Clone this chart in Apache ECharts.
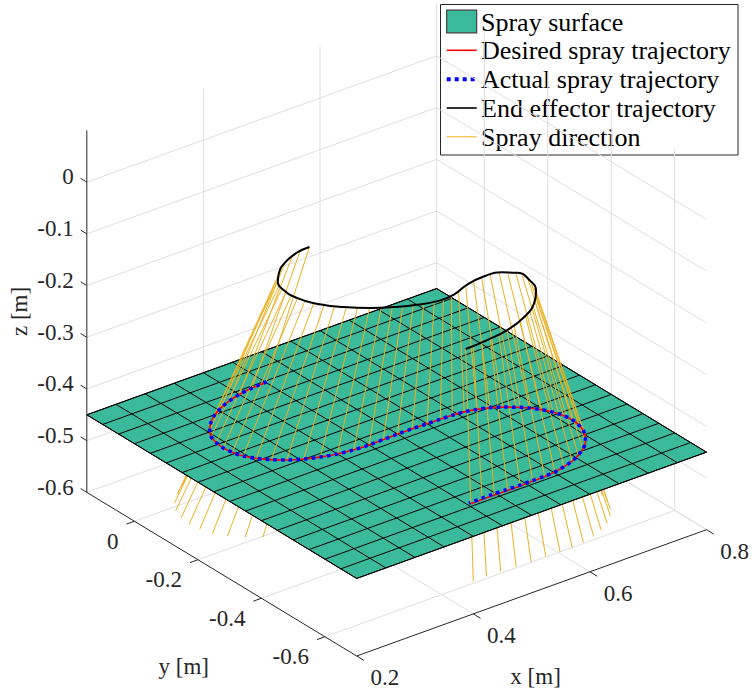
<!DOCTYPE html>
<html><head><meta charset="utf-8">
<script src="https://cdn.jsdelivr.net/npm/echarts@6/dist/echarts.min.js"></script>
<style>
html,body{margin:0;padding:0;background:#fff}
#c{width:752px;height:691px}
</style>
</head><body><div id="c"></div>
<script>
// ---------- data (metres) ----------
const xLim = [0.2, 0.8];
const yLim = [-0.7, 0.15];
const zLim = [-0.6, 0.1];
const xTicks = [0.2, 0.4, 0.6, 0.8];
const yTicks = [-0.6, -0.4, -0.2, 0];
const zTicks = [-0.6, -0.5, -0.4, -0.3, -0.2, -0.1, 0];
const surfX = [0.2,0.25,0.3,0.35,0.4,0.45,0.5,0.55,0.6,0.65,0.7,0.75,0.8];
const surfY = [-0.7,-0.65,-0.6,-0.55,-0.5,-0.45,-0.4,-0.35,-0.3,-0.25,-0.2,-0.15,-0.1,-0.05,0,0.05,0.1,0.15];
const surfZ = -0.45;
const desiredX = [0.450,0.425,0.400,0.376,0.355,0.335,0.319,0.305,0.295,0.290,0.288,0.290,0.295,0.305,0.319,0.335,0.355,0.376,0.400,0.425,0.450,0.475,0.500,0.525,0.550,0.572,0.592,0.611,0.629,0.646,0.661,0.675,0.688,0.698,0.706,0.711,0.713,0.711,0.706,0.698,0.687,0.673,0.657,0.640,0.621,0.602,0.583,0.562,0.540,0.518,0.496,0.475,0.455];
const desiredY = [0.045,0.043,0.037,0.027,0.014,-0.003,-0.022,-0.044,-0.067,-0.092,-0.118,-0.143,-0.168,-0.191,-0.213,-0.232,-0.249,-0.262,-0.272,-0.278,-0.280,-0.279,-0.278,-0.278,-0.279,-0.280,-0.281,-0.284,-0.291,-0.301,-0.314,-0.330,-0.348,-0.368,-0.390,-0.413,-0.437,-0.461,-0.484,-0.506,-0.526,-0.544,-0.559,-0.571,-0.580,-0.586,-0.589,-0.590,-0.591,-0.591,-0.590,-0.590,-0.591];
const actualX = [0.452,0.426,0.400,0.376,0.355,0.335,0.319,0.305,0.295,0.290,0.288,0.290,0.295,0.305,0.319,0.335,0.355,0.376,0.400,0.425,0.450,0.475,0.500,0.525,0.550,0.572,0.592,0.611,0.629,0.646,0.661,0.675,0.688,0.698,0.706,0.711,0.713,0.711,0.706,0.698,0.687,0.673,0.657,0.640,0.621,0.602,0.583,0.562,0.540,0.518,0.496,0.475,0.454];
const actualY = [0.046,0.043,0.037,0.027,0.014,-0.003,-0.022,-0.044,-0.067,-0.092,-0.118,-0.143,-0.168,-0.191,-0.213,-0.232,-0.249,-0.262,-0.272,-0.278,-0.280,-0.279,-0.278,-0.278,-0.279,-0.280,-0.281,-0.284,-0.291,-0.301,-0.314,-0.330,-0.348,-0.368,-0.390,-0.413,-0.437,-0.461,-0.484,-0.506,-0.526,-0.544,-0.559,-0.571,-0.580,-0.586,-0.588,-0.588,-0.588,-0.587,-0.586,-0.586,-0.587];
const effectorX = [0.462,0.438,0.407,0.383,0.367,0.358,0.358,0.369,0.392,0.419,0.446,0.475,0.508,0.533,0.565,0.598,0.623,0.640,0.640,0.627,0.604,0.568,0.528,0.489,0.449];
const effectorY = [-0.070,-0.074,-0.093,-0.119,-0.145,-0.178,-0.221,-0.263,-0.306,-0.340,-0.365,-0.385,-0.398,-0.395,-0.378,-0.371,-0.378,-0.399,-0.435,-0.481,-0.517,-0.551,-0.573,-0.582,-0.586];
const effectorZ = -0.15;
const legendNames = ['Spray surface','Desired spray trajectory','Actual spray trajectory','End effector trajectory','Spray direction'];

// ---------- view (orthographic projection, MATLAB-like 3-D box) ----------
const VIEW = { o:[356.7,656], ex:[583,-210.5], ey:[-317.5,-192.5], ez:[0,-517] };
function proj(x, y, z) {
  const a = x - xLim[0], b = y - yLim[0], c = z - zLim[0];
  return [VIEW.o[0] + a*VIEW.ex[0] + b*VIEW.ey[0] + c*VIEW.ez[0],
          VIEW.o[1] + a*VIEW.ex[1] + b*VIEW.ey[1] + c*VIEW.ez[1]];
}
const SURF = '#3ab99b', GRIDC = '#dedede', AXC = '#262626', SPRAY = '#EDB120';
const FONT = 'serif';

// spray lines: each desired point linked to the end-effector path at the same path fraction
function cum(pts){ const s=[0]; for(let i=1;i<pts.length;i++){ s.push(s[i-1]+Math.hypot(pts[i][0]-pts[i-1][0], pts[i][1]-pts[i-1][1])); } return s; }
const dPts = desiredX.map((x,i)=>proj(x, desiredY[i], surfZ));
const ePts = effectorX.map((x,i)=>proj(x, effectorY[i], effectorZ));
const sD = cum(dPts), sE = cum(ePts);
const sprays = desiredX.map((x,i)=>{
  const t = sD[i]/sD[sD.length-1]*sE[sE.length-1];
  let j = 0; while (j < sE.length-2 && sE[j+1] < t) j++;
  const f = Math.min(1, Math.max(0, (t - sE[j])/((sE[j+1]-sE[j])||1)));
  const ex = effectorX[j] + f*(effectorX[j+1]-effectorX[j]);
  const ey = effectorY[j] + f*(effectorY[j+1]-effectorY[j]);
  const y = desiredY[i];
  const k = (surfZ - zLim[0])/(effectorZ - surfZ);
  return { top:[ex, ey, effectorZ], mid:[x, y, surfZ], bot:[x + k*(x-ex), y + k*(y-ey), zLim[0]] };
});

function P(api, p){ return api.coord(proj(p[0], p[1], p[2])); }
function seg(api, p, q, style){ const a=P(api,p), b=P(api,q); return {type:'line', shape:{x1:a[0],y1:a[1],x2:b[0],y2:b[1]}, style}; }
function custom(name, z, build){
  return { type:'custom', name, coordinateSystem:'cartesian2d', silent:true, z, data:[[0,0]], animation:false,
           renderItem:(params, api)=>({type:'group', children: build(api)}) };
}
function fmt(v){ const r = Math.round(v*10)/10; return r === 0 ? '0' : String(r); }
function tstyle(s, align, size, fill){ return {text:s, fill:fill||AXC, fontFamily:FONT, fontSize:size||23, align, verticalAlign:'middle'}; }

const [x0,x1] = xLim, [y0,y1] = yLim, [z0,z1] = zLim;

const gridSeries = custom('grid', 1, api=>{
  const st = {stroke:GRIDC, lineWidth:1}, c=[];
  xTicks.forEach(x=>{ if (x>x0) c.push(seg(api,[x,y1,z0],[x,y1,z1],st)); });
  zTicks.forEach(z=>c.push(seg(api,[x0,y1,z],[x1,y1,z],st)));
  yTicks.forEach(y=>c.push(seg(api,[x1,y,z0],[x1,y,z1],st)));
  zTicks.forEach(z=>c.push(seg(api,[x1,y1,z],[x1,y0,z],st)));
  xTicks.forEach(x=>{ if (x>x0) c.push(seg(api,[x,y0,z0],[x,y1,z0],st)); });
  yTicks.forEach(y=>c.push(seg(api,[x0,y,z0],[x1,y,z0],st)));
  return c;
});
const sprayLow = custom('spray-low', 2, api=>sprays.map(s=>seg(api, s.mid, s.bot, {stroke:SPRAY, lineWidth:1})));
const surface = custom(legendNames[0], 3, api=>{
  const sx0=surfX[0], sx1=surfX[surfX.length-1], sy0=surfY[0], sy1=surfY[surfY.length-1];
  const corners = [[sx0,sy0],[sx1,sy0],[sx1,sy1],[sx0,sy1]].map(p=>P(api,[p[0],p[1],surfZ]));
  const c = [{type:'polygon', shape:{points:corners}, style:{fill:SURF, stroke:'#000', lineWidth:1}}];
  const st = {stroke:'#000', lineWidth:1};
  surfX.forEach(x=>c.push(seg(api,[x,sy0,surfZ],[x,sy1,surfZ],st)));
  surfY.forEach(y=>c.push(seg(api,[sx0,y,surfZ],[sx1,y,surfZ],st)));
  return c;
});
const sprayHigh = custom(legendNames[4], 4, api=>sprays.map(s=>seg(api, s.top, s.mid, {stroke:SPRAY, lineWidth:1})));

const axes = custom('axes', 8, api=>{
  const c=[], st={stroke:AXC, lineWidth:1};
  c.push(seg(api,[x0,y1,z0],[x0,y1,z1],st));
  c.push(seg(api,[x0,y0,z0],[x0,y1,z0],st));
  c.push(seg(api,[x0,y0,z0],[x1,y0,z0],st));
  const unit=(p,q)=>{ const a=P(api,p), b=P(api,q); const d=Math.hypot(b[0]-a[0],b[1]-a[1]); return [(b[0]-a[0])/d,(b[1]-a[1])/d]; };
  const uy = unit([x0,y0,z0],[x0,y1,z0]);   // +y on screen
  const ux = unit([x0,y0,z0],[x1,y0,z0]);   // +x on screen
  const L = 8.5;
  const txt=(x,y,s,align)=>({type:'text', x, y, style:tstyle(s, align)});
  zTicks.forEach(z=>{ const a=P(api,[x0,y1,z]); const b=[a[0]+uy[0]*L*0.85, a[1]+uy[1]*L*0.85];
    c.push({type:'line', shape:{x1:a[0],y1:a[1],x2:b[0],y2:b[1]}, style:st}); c.push(txt(b[0]-7, b[1]-1.5, fmt(z), 'right')); });
  yTicks.forEach(y=>{ const a=P(api,[x0,y,z0]); const b=[a[0]-ux[0]*L, a[1]-ux[1]*L];
    c.push({type:'line', shape:{x1:a[0],y1:a[1],x2:b[0],y2:b[1]}, style:st}); c.push(txt(b[0]-8, b[1]+17, fmt(y), 'right')); });
  xTicks.forEach(x=>{ const a=P(api,[x,y0,z0]); const b=[a[0]-uy[0]*L, a[1]-uy[1]*L];
    c.push({type:'line', shape:{x1:a[0],y1:a[1],x2:b[0],y2:b[1]}, style:st}); c.push(txt(b[0]+6.5, b[1]+17.5, fmt(x), 'left')); });
  const xm = P(api,[(x0+x1)/2, y0, z0]), ym = P(api,[x0,(y0+y1)/2, z0]), zm = P(api,[x0,y1,(z0+z1)/2]);
  c.push({type:'text', x:xm[0]+4, y:xm[1]+84, style:tstyle('x [m]','center')});
  c.push({type:'text', x:ym[0]-38, y:ym[1]+92, style:tstyle('y [m]','center')});
  c.push({type:'text', x:zm[0]-67, y:zm[1], rotation:Math.PI/2, style:tstyle('z [m]','center')});
  return c;
});

const lineBase = {type:'line', symbol:'none', showSymbol:false, silent:true, animation:false, clip:false};
const series = [
  gridSeries, sprayLow, surface, sprayHigh,
  Object.assign({}, lineBase, {name:legendNames[1], z:5, smooth:0.3, data:dPts, lineStyle:{color:'#ff0000', width:1.6}}),
  Object.assign({}, lineBase, {name:legendNames[2], z:6, smooth:0.3, data:actualX.map((x,i)=>proj(x, actualY[i], surfZ)), lineStyle:{color:'#0000ff', width:3.5, type:[3.5,4.2], cap:'butt'}}),
  Object.assign({}, lineBase, {name:legendNames[3], z:7, smooth:0.5, data:ePts, lineStyle:{color:'#000000', width:2}}),
  axes
];

// legend (drawn as graphic elements)
const LG = {x:440.5, y:4.5, w:297.5, h:150.5, rows:[21.5,50.3,79.2,108,136.8], ix:446.7, iw:30, tx:481};
const lg = [{type:'rect', shape:{x:LG.x, y:LG.y, width:LG.w, height:LG.h}, style:{fill:'#fff', stroke:AXC, lineWidth:1}}];
lg.push({type:'rect', shape:{x:LG.ix, y:LG.rows[0]-11.3, width:LG.iw, height:22.6}, style:{fill:SURF, stroke:'#404040', lineWidth:1.2}});
const icon = [null, {stroke:'#ff0000', lineWidth:1.6}, {stroke:'#0000ff', lineWidth:4, lineDash:[4,4]}, {stroke:'#000', lineWidth:1.6}, {stroke:SPRAY, lineWidth:1}];
for (let i=1;i<5;i++) lg.push({type:'line', shape:{x1:LG.ix, y1:LG.rows[i], x2:LG.ix+LG.iw, y2:LG.rows[i]}, style:icon[i]});
legendNames.forEach((n,i)=>lg.push({type:'text', x:LG.tx, y:LG.rows[i]+0.5, style:tstyle(n, 'left', 26, '#000')}));

const chart = echarts.init(document.getElementById('c'), null, {renderer:'svg', width:752, height:691});
chart.setOption({
  animation:false,
  backgroundColor:'#ffffff',
  grid:{left:0, right:0, top:0, bottom:0},
  xAxis:{type:'value', min:0, max:752, show:false},
  yAxis:{type:'value', min:0, max:691, inverse:true, show:false},
  series,
  graphic:[{type:'group', z:100, children:lg}]
});
</script></body></html>
